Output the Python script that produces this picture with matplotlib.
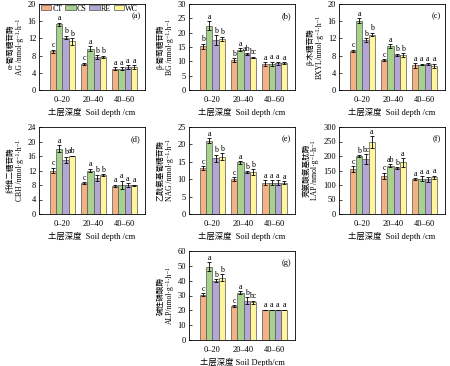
import matplotlib
matplotlib.use("Agg")
import matplotlib.pyplot as plt
import numpy as np

plt.rcParams['font.family'] = ['Liberation Serif', 'Noto Sans CJK SC', 'DejaVu Sans']
plt.rcParams['axes.linewidth'] = 0.6

depths = ['0–20', '20–40', '40–60']
treatments = ['CT', 'CS', 'RE', 'WC']
colors = ['#F4B183', '#A9D18E', '#B4A7D6', '#FFF59D']

# values per treatment: [0-20, 20-40, 40-60]
ag = {'CT': [9.0, 6.1, 5.0], 'CS': [15.3, 9.6, 5.0], 'RE': [12.2, 7.6, 5.3], 'WC': [11.3, 7.7, 5.3]}
ag_err = {'CT': [0.4, 0.2, 0.3], 'CS': [0.3, 0.6, 0.3], 'RE': [0.4, 0.5, 0.4], 'WC': [0.8, 0.3, 0.4]}
ag_let = {'CT': ['c', 'c', 'a'], 'CS': ['a', 'a', 'a'], 'RE': ['b', 'b', 'a'], 'WC': ['b', 'b', 'a']}

bg = {'CT': [15.2, 10.5, 9.0], 'CS': [22.5, 14.0, 9.0], 'RE': [17.5, 12.5, 9.3], 'WC': [17.8, 11.3, 9.3]}
bg_err = {'CT': [1.0, 0.6, 0.6], 'CS': [1.5, 0.5, 0.8], 'RE': [1.7, 0.3, 0.6], 'WC': [0.8, 0.3, 0.3]}
bg_let = {'CT': ['b', 'b', 'a'], 'CS': ['a', 'a', 'a'], 'RE': ['b', 'ab', 'a'], 'WC': ['b', 'bc', 'a']}

bxyl = {'CT': [9.1, 7.0, 5.7], 'CS': [16.1, 10.2, 5.9], 'RE': [11.6, 8.2, 6.0], 'WC': [12.9, 8.1, 5.6]}
bxyl_err = {'CT': [0.3, 0.2, 0.5], 'CS': [0.6, 0.5, 0.2], 'RE': [0.5, 0.2, 0.2], 'WC': [0.4, 0.4, 0.5]}
bxyl_let = {'CT': ['c', 'c', 'a'], 'CS': ['a', 'a', 'a'], 'RE': ['b', 'b', 'a'], 'WC': ['b', 'b', 'a']}

cbh = {'CT': [12.0, 8.5, 7.8], 'CS': [18.0, 12.0, 8.0], 'RE': [15.0, 10.0, 8.0], 'WC': [16.0, 10.7, 7.9]}
cbh_err = {'CT': [0.8, 0.2, 0.3], 'CS': [1.0, 0.5, 1.2], 'RE': [0.8, 0.8, 0.5], 'WC': [0.1, 0.2, 0.2]}
cbh_let = {'CT': ['c', 'c', 'a'], 'CS': ['a', 'a', 'a'], 'RE': ['b', 'b', 'a'], 'WC': ['ab', 'b', 'a']}

nag = {'CT': [13.2, 10.0, 9.0], 'CS': [21.0, 14.8, 9.0], 'RE': [16.0, 12.0, 9.0], 'WC': [16.4, 12.0, 9.0]}
nag_err = {'CT': [0.5, 0.6, 0.7], 'CS': [0.7, 0.3, 0.7], 'RE': [1.0, 0.3, 0.7], 'WC': [1.0, 0.8, 0.4]}
nag_let = {'CT': ['c', 'c', 'a'], 'CS': ['a', 'a', 'a'], 'RE': ['b', 'b', 'a'], 'WC': ['b', 'b', 'a']}

lap = {'CT': [155, 132, 121], 'CS': [200, 167, 122], 'RE': [190, 158, 120], 'WC': [248, 178, 127]}
lap_err = {'CT': [10, 10, 3], 'CS': [3, 5, 8], 'RE': [17, 3, 8], 'WC': [20, 15, 5]}
lap_let = {'CT': ['c', 'c', 'a'], 'CS': ['b', 'ab', 'a'], 'RE': ['bc', 'b', 'a'], 'WC': ['a', 'a', 'a']}

alp = {'CT': [30.5, 23.0, 20.3], 'CS': [49.5, 32.0, 20.3], 'RE': [40.0, 26.5, 20.3], 'WC': [42.0, 25.5, 20.3]}
alp_err = {'CT': [1.0, 0.5, 0.2], 'CS': [3.0, 1.0, 0.2], 'RE': [1.0, 2.5, 0.2], 'WC': [2.5, 1.0, 0.2]}
alp_let = {'CT': ['c', 'c', 'a'], 'CS': ['a', 'a', 'a'], 'RE': ['b', 'b', 'a'], 'WC': ['b', 'bc', 'a']}

xlab = '土层深度  Soil depth /cm'
unit = '/nmol·g⁻¹·h⁻¹'

panels = [
    (ag, ag_err, ag_let, 20, 4, 'α-葡萄糖苷酶\nAG ' + unit, '(a)', xlab),
    (bg, bg_err, bg_let, 30, 5, 'β-葡萄糖苷酶\nBG ' + unit, '(b)', xlab),
    (bxyl, bxyl_err, bxyl_let, 20, 4, 'β-木糖苷酶\nBXYL' + unit, '(c)', xlab),
    (cbh, cbh_err, cbh_let, 24, 4, '纤维二糖苷酶\nCBH ' + unit, '(d)', xlab),
    (nag, nag_err, nag_let, 25, 5, '乙酰氨基葡糖苷酶\nNAG ' + unit, '(e)', xlab),
    (lap, lap_err, lap_let, 300, 50, '亮氨酸氨基肽酶\nLAP ' + unit, '(f)', xlab),
    (alp, alp_err, alp_let, 60, 10, '碱性磷酸酶\nALP' + unit, '(g)', '土层深度 Soil Depth/cm'),
]

# axes boxes in pixels (left, top), figure is 450x366
W, H = 450, 366
boxes_px = [(39, 4), (189, 4), (339, 4), (39, 127), (189, 127), (339, 127), (189, 251)]
heights_px = [86, 86, 86, 87, 87, 87, 89]

fig = plt.figure(figsize=(4.5, 3.66), dpi=100)
x = np.arange(len(depths))
width = 0.2

for k, (vals, errs, lets, ymax, ystep, ylab, tag, xl) in enumerate(panels):
    left, top = boxes_px[k]
    h = heights_px[k]
    ax = fig.add_axes([left / W, 1 - (top + h) / H, 106 / W, h / H])
    for i, t in enumerate(treatments):
        xs = x + (i - 1.5) * width
        ax.bar(xs, vals[t], width, color=colors[i], edgecolor='#555555', linewidth=0.5,
               yerr=errs[t], error_kw=dict(ecolor='black', elinewidth=0.6, capsize=1.2, capthick=0.6),
               label=t)
        for xi, v, e, s in zip(xs, vals[t], errs[t], lets[t]):
            ax.text(xi, v + e + ymax * 0.005, s, ha='center', va='bottom', fontsize=5.8)
    ax.set_xlim(-0.75, 2.65)
    ax.set_ylim(0, ymax)
    ax.set_yticks(np.arange(0, ymax + 0.1, ystep))
    ax.set_xticks(x)
    ax.set_xticklabels(depths)
    ax.tick_params(direction='in', length=2, width=0.5, labelsize=6, pad=2)
    ax.tick_params(axis='x', length=0, pad=4)
    ax.set_ylabel(ylab, fontsize=5.5, labelpad=3, linespacing=1.15)
    ax.set_xlabel(xl, fontsize=6, labelpad=3)
    ax.text(0.96, 0.86, tag, transform=ax.transAxes, ha='right', va='center', fontsize=6)
    if k == 0:
        ax.legend(loc='upper left', bbox_to_anchor=(-0.02, 1.04), ncol=4, frameon=False,
                  fontsize=5.8, handlelength=1.3, handleheight=0.6, handletextpad=0.12,
                  columnspacing=0.35, borderaxespad=0.1)

fig.savefig('out.png', dpi=100)
